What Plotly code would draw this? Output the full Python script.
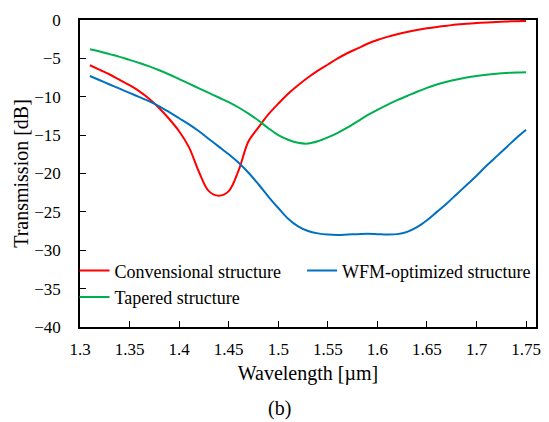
import plotly.graph_objects as go

wavelength = [1.31, 1.32, 1.33, 1.34, 1.35, 1.36, 1.37, 1.38, 1.39, 1.40,
              1.41, 1.42, 1.43, 1.44, 1.45, 1.46, 1.47, 1.48, 1.49, 1.50,
              1.51, 1.52, 1.53, 1.54, 1.55, 1.56, 1.57, 1.58, 1.59, 1.60,
              1.61, 1.62, 1.63, 1.64, 1.65, 1.66, 1.67, 1.68, 1.69, 1.70,
              1.71, 1.72, 1.73, 1.74, 1.75]

conventional = [-5.9, -6.5, -7.1, -7.8, -8.5, -9.3, -10.3, -11.5, -12.9, -14.5,
                -16.6, -19.8, -22.3, -22.9, -22.3, -19.6, -15.8, -14.0, -12.3, -10.9,
                -9.6, -8.5, -7.5, -6.6, -5.8, -5.0, -4.3, -3.7, -3.1, -2.6,
                -2.2, -1.85, -1.55, -1.3, -1.08, -0.9, -0.75, -0.6, -0.5, -0.4,
                -0.32, -0.25, -0.2, -0.15, -0.12]

wfm = [-7.3, -7.85, -8.4, -8.95, -9.5, -10.05, -10.6, -11.25, -12.0, -12.8,
       -13.6, -14.5, -15.5, -16.5, -17.5, -18.6, -19.9, -21.4, -23.0, -24.5,
       -25.9, -26.9, -27.5, -27.8, -27.95, -28.0, -27.95, -27.9, -27.85, -27.9,
       -27.95, -27.9, -27.6, -27.0, -26.1, -25.0, -23.9, -22.7, -21.5, -20.3,
       -19.0, -17.8, -16.6, -15.4, -14.3]

tapered = [-3.8, -4.1, -4.45, -4.8, -5.2, -5.6, -6.05, -6.55, -7.1, -7.7,
           -8.3, -8.9, -9.5, -10.1, -10.7, -11.4, -12.2, -13.1, -14.1, -15.0,
           -15.6, -16.0, -16.1, -15.8, -15.3, -14.7, -14.0, -13.2, -12.4, -11.7,
           -11.05, -10.45, -9.9, -9.35, -8.85, -8.4, -8.05, -7.75, -7.5, -7.3,
           -7.13, -7.0, -6.9, -6.84, -6.8]

x_ticks = [1.3, 1.35, 1.4, 1.45, 1.5, 1.55, 1.6, 1.65, 1.7, 1.75]
x_tick_labels = ["1.3", "1.35", "1.4", "1.45", "1.5", "1.55", "1.6", "1.65", "1.7", "1.75"]
y_ticks = [0, -5, -10, -15, -20, -25, -30, -35, -40]

FONT = "Liberation Serif, Times New Roman, serif"

fig = go.Figure()
fig.add_trace(go.Scatter(x=wavelength, y=conventional, mode="lines", name="Convensional structure",
                         legend="legend",
                         line=dict(color="#FF0000", width=2, shape="spline")))
fig.add_trace(go.Scatter(x=wavelength, y=wfm, mode="lines", name="WFM-optimized structure",
                         legend="legend2",
                         line=dict(color="#0070C0", width=2, shape="spline")))
fig.add_trace(go.Scatter(x=wavelength, y=tapered, mode="lines", name="Tapered structure",
                         legend="legend",
                         line=dict(color="#00B050", width=2, shape="spline")))

legend_common = dict(yanchor="top", xanchor="left", itemwidth=30,
                     font=dict(family=FONT, size=18, color="black"),
                     bgcolor="rgba(0,0,0,0)", tracegroupgap=0, traceorder="normal")

fig.update_layout(
    width=549, height=422,
    margin=dict(l=80, r=8, t=20, b=95),
    paper_bgcolor="white", plot_bgcolor="white",
    font=dict(family=FONT, size=17, color="black"),
    showlegend=True,
    legend=dict(x=-0.012, y=0.243, **legend_common),
    legend2=dict(x=0.487, y=0.243, **legend_common),
    xaxis=dict(range=[1.3, 1.76], tickvals=x_ticks, ticktext=x_tick_labels,
               ticks="inside", ticklen=6, tickcolor="black", tickwidth=1,
               ticklabelstandoff=6,
               showline=True, linecolor="black", linewidth=1.5, mirror=True,
               showgrid=False, zeroline=False,
               tickfont=dict(family=FONT, size=17),
               title=dict(text="Wavelength [µm]", font=dict(family=FONT, size=20), standoff=8)),
    yaxis=dict(range=[-40, 0], tickvals=y_ticks,
               ticks="inside", ticklen=6, tickcolor="black", tickwidth=1,
               ticklabelstandoff=14,
               showline=True, linecolor="black", linewidth=1.5, mirror=True,
               showgrid=False, zeroline=False,
               tickfont=dict(family=FONT, size=17),
               title=dict(text="Transmission [dB]", font=dict(family=FONT, size=20), standoff=0)),
    annotations=[dict(text="(b)", x=0.438, y=-0.264, xref="paper", yref="paper",
                      showarrow=False, yanchor="middle", xanchor="center",
                      font=dict(family=FONT, size=20, color="black"))],
)

fig.write_html("out.html")
